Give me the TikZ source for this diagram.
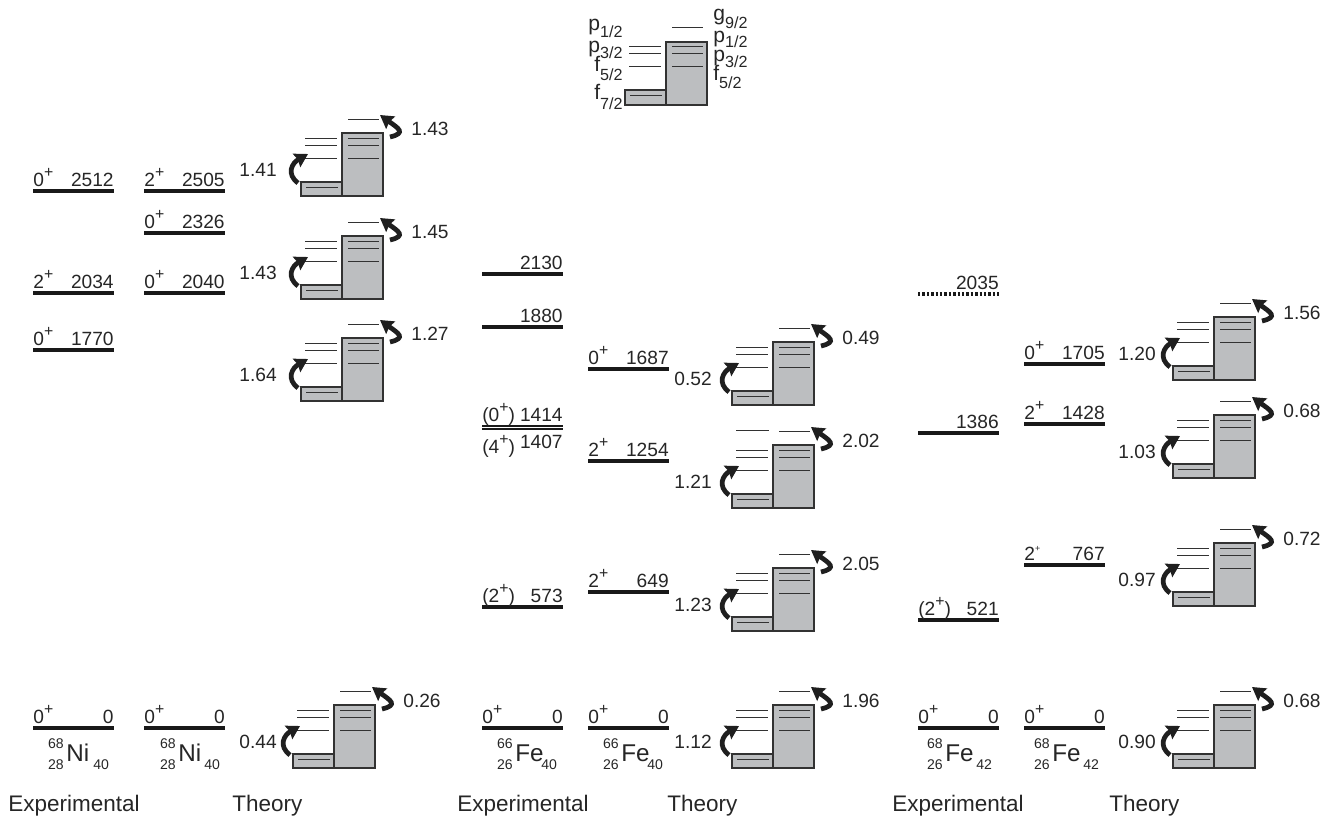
\documentclass[tikz,border=0pt]{standalone}
\usepackage{fontspec}
\setmainfont{Liberation Sans}
\usetikzlibrary{arrows.meta}
\definecolor{shellgray}{RGB}{188,190,192}
\definecolor{shellink}{RGB}{50,50,50}
\newcommand{\pl}{\raisebox{4.8pt}{\fontsize{9}{9}\selectfont +}}
\newcommand{\plsmall}{\raisebox{4.6pt}{\fontsize{5}{6}\selectfont +}}
\newcommand{\orb}[3]{{\fontsize{12}{13}\selectfont #1}\raisebox{-#3pt}{\fontsize{9.2}{10}\selectfont #2}}
\newcommand{\shell}[6]{%
\begin{scope}[shift={(#2,#3)}]
\draw[box] (0,0) rectangle (41,-14);
\draw[box] (41,0) rectangle (82,-63);
\draw[lev] (5,-9) -- (37,-9);
\foreach \yy in {-58,-51,-38} {\draw[lev] (4,\yy) -- (36,\yy); \draw[lev] (47,\yy) -- (78,\yy);}
\draw[lev] (47,-77) -- (78,-77);
\coordinate (#1-a) at (-3,-13); \coordinate (#1-b) at (7,-42);
\coordinate (#1-c) at (89,-59); \coordinate (#1-d) at (79,-81);
\draw[jump] (#1-a) .. controls (-15,-22) and (-9,-33) .. (#1-b);
\draw[jump] (#1-c) .. controls (106,-63) and (97,-68) .. (#1-d);
\node[val,anchor=east] (#1-l) at (#6,-26) {#4};
\node[val,anchor=west] (#1-r) at (110,-67) {#5};
\end{scope}}
\begin{document}
\begin{tikzpicture}[x=0.02cm,y=-0.02cm,
  box/.style={draw=shellink,fill=shellgray,line width=0.7pt},
  lev/.style={draw=shellink,line width=0.5pt},
  elevel/.style={draw=black!90,line width=1.8pt},
  jump/.style={-{Stealth[length=2.6mm,width=3mm,inset=0.3mm]},line width=2.7pt,black!88},
  val/.style={inner sep=0pt,font=\fontsize{10.9}{12}\selectfont,black!85},
  small/.style={inner sep=0pt,font=\fontsize{8}{9}\selectfont,black!85},
  sym/.style={inner sep=0pt,font=\fontsize{12.8}{15}\selectfont,black!85},
  elem/.style={inner sep=0pt,font=\fontsize{13.8}{15}\selectfont,black!85}]
\useasboundingbox (0,0) rectangle (1334,818);
\foreach \x/\y/\spin/\en in {33/191/{0\pl}/2512,33/293/{2\pl}/2034,33/350/{0\pl}/1770,33/728/{0\pl}/0,
  144/191/{2\pl}/2505,144/233/{0\pl}/2326,144/293/{0\pl}/2040,144/728/{0\pl}/0,
  482/274/{}/2130,482/327/{}/1880,482/607/{(2\pl)}/573,482/728/{0\pl}/0,
  588/369/{0\pl}/1687,588/461/{2\pl}/1254,588/592/{2\pl}/649,588/728/{0\pl}/0,
  918/433/{}/1386,918/620/{(2\pl)}/521,918/728/{0\pl}/0,
  1024/364/{0\pl}/1705,1024/424/{2\pl}/1428,1024/565/{2\plsmall}/767,1024/728/{0\pl}/0} {
  \coordinate (l\x-\y) at (\x,\y);
  \coordinate (r\x-\y) at (\x+81,\y);
  \draw[elevel] (l\x-\y) -- (r\x-\y);
  \node[val,anchor=base west] (s\x-\y) at (\x,\y-5) {\spin};
  \node[val,anchor=base east] (e\x-\y) at (\x+81,\y-5) {\en};
}
% near doublet and the dotted one
\coordinate (d0) at (482,426); \coordinate (d1) at (563,426);
\coordinate (d2) at (482,429); \coordinate (d3) at (563,429);
\draw[elevel,line width=1.2pt] (d0) -- (d1); \draw[elevel,line width=1.2pt] (d2) -- (d3);
\node[val,anchor=base west] (s1414) at (482,421) {(0\pl)};
\node[val,anchor=base east] (e1414) at (563,421) {1414};
\node[val,anchor=base west] (s1407) at (482,453) {(4\pl)};
\node[val,anchor=base east] (e1407) at (563,448) {1407};
\coordinate (d4) at (918,294); \coordinate (d5) at (999,294);
\draw[elevel,dash pattern=on 1.4pt off 1.1pt] (d4) -- (d5);
\node[val,anchor=base east] (e2035) at (999,289) {2035};
% shells
\shell{na}{301}{196}{1.41}{1.43}{-24}
\shell{nb}{301}{299}{1.43}{1.45}{-24}
\shell{nc}{301}{401}{1.64}{1.27}{-24}
\shell{nd}{293}{768}{0.44}{0.26}{-16}
\shell{fa}{732}{405}{0.52}{0.49}{-20}
\shell{fb}{732}{508}{1.21}{2.02}{-20}
\shell{fc}{732}{631}{1.23}{2.05}{-20}
\shell{fd}{732}{768}{1.12}{1.96}{-20}
\shell{ga}{1173}{380}{1.20}{1.56}{-17}
\shell{gb}{1173}{478}{1.03}{0.68}{-17}
\shell{gc}{1173}{606}{0.97}{0.72}{-17}
\shell{gd}{1173}{768}{0.90}{0.68}{-17}
\coordinate (fb0) at (736,430); \coordinate (fb1) at (769,430);
\draw[lev] (fb0) -- (fb1);
% key on top
\begin{scope}[shift={(625,105)}]
\draw[box] (0,0) rectangle (41,-15);
\draw[box] (41,0) rectangle (82,-63);
\draw[lev] (5,-10) -- (37,-10);
\foreach \yy in {-59,-52,-39} {\draw[lev] (4,\yy) -- (36,\yy); \draw[lev] (47,\yy) -- (78,\yy);}
\draw[lev] (47,-78) -- (78,-78);
\end{scope}
\foreach \x/\y/\a/\b/\c/\side/\nm in {623/31/p/{1/2}/3.9/east/ka,623/52/p/{3/2}/3.6/east/kb,623/71/f/{5/2}/5.6/east/kc,623/99/f/{7/2}/6/east/kd,
  713/20/g/{9/2}/4.6/west/ke,713/42/p/{1/2}/3/west/kf,713/61/p/{3/2}/3.6/west/kg,713/80/f/{5/2}/5/west/kh}
  \node[val,anchor=base \side] (\nm) at (\x,\y) {\orb{\a}{\b}{\c}};
% nuclei
\foreach \sx/\nx/\ma/\mz/\el/\mn/\nm in {66/93/68/28/Ni/40/na,178/204/68/28/Ni/40/nb,515/541/66/26/Fe/40/nc,621/647/66/26/Fe/40/nd,945/976/68/26/Fe/42/ne,1052/1083/68/26/Fe/42/nf} {
  \node[elem,anchor=base west] (\nm-el) at (\sx,761) {\el};
  \node[small,anchor=base east] (\nm-a) at (\sx-2,748) {\ma};
  \node[small,anchor=base east] (\nm-z) at (\sx-2,769) {\mz};
  \node[small,anchor=base west] (\nm-n) at (\nx,769) {\mn};
}
\foreach \x/\t/\nm in {8/Experimental/ca,232/Theory/cb,457/Experimental/cc,667/Theory/cd,892/Experimental/ce,1109/Theory/cf}
  \node[sym,anchor=base west] (\nm) at (\x,811) {\t};
\end{tikzpicture}
\end{document}
